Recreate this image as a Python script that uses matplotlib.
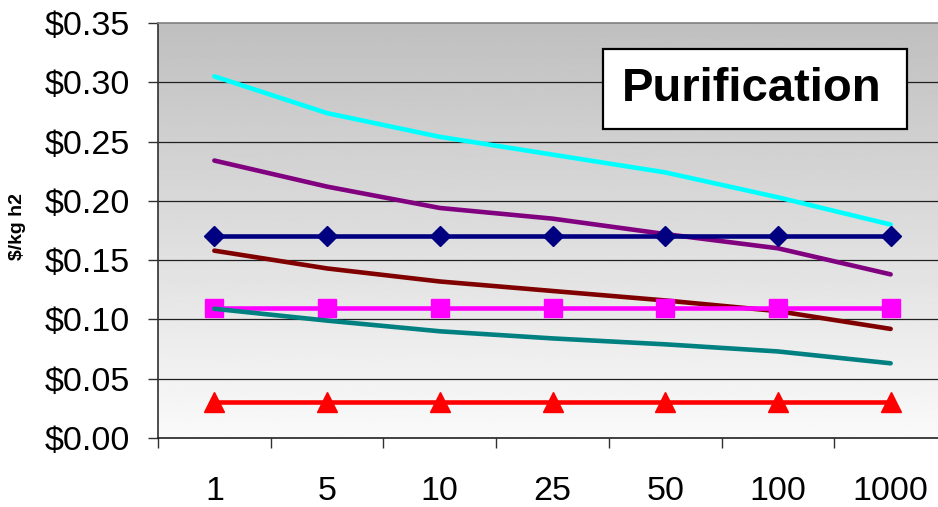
import numpy as np
import matplotlib
matplotlib.use("Agg")
import matplotlib.pyplot as plt
from matplotlib.patches import Rectangle

plt.rcParams['font.family'] = ['Liberation Sans', 'DejaVu Sans']

categories = ["1", "5", "10", "25", "50", "100", "1000"]
cyan_vals = [0.305, 0.274, 0.254, 0.239, 0.224, 0.203, 0.180]
purple_vals = [0.234, 0.212, 0.194, 0.185, 0.172, 0.160, 0.138]
navy_vals = [0.170, 0.170, 0.170, 0.170, 0.170, 0.170, 0.170]
darkred_vals = [0.158, 0.143, 0.132, 0.124, 0.116, 0.107, 0.092]
magenta_vals = [0.110, 0.110, 0.110, 0.110, 0.110, 0.110, 0.110]
teal_vals = [0.109, 0.099, 0.090, 0.084, 0.079, 0.073, 0.063]
red_vals = [0.030, 0.030, 0.030, 0.030, 0.030, 0.030, 0.030]
y_ticks = [0.00, 0.05, 0.10, 0.15, 0.20, 0.25, 0.30, 0.35]

W, H = 938, 507
fig = plt.figure(figsize=(W / 100, H / 100), dpi=100)
left, right, top, bottom = 158, 947, 23, 438
ax = fig.add_axes([left / W, (H - bottom) / H, (right - left) / W, (bottom - top) / H])

n = len(categories)
x = np.arange(n)
ax.set_xlim(-0.5, n - 0.5)
ax.set_ylim(0, 0.35)

# gradient background
grad = np.linspace(0.98, 0.75, 256).reshape(-1, 1)
ax.imshow(grad, extent=[-0.5, n - 0.5, 0, 0.35], aspect='auto', cmap='gray',
          vmin=0, vmax=1, origin='lower', zorder=0, interpolation='bilinear')

# grid
for yv in y_ticks[1:-1]:
    ax.axhline(yv, color='#202020', lw=0.9, zorder=1)

lw = 3.3
ax.plot(x, cyan_vals, color='#00FFFF', lw=lw, zorder=3, solid_capstyle='round')
ax.plot(x, purple_vals, color='#800080', lw=lw, zorder=3, solid_capstyle='round')
ax.plot(x, navy_vals, color='#000080', lw=lw, zorder=3, marker='D', ms=10.5)
ax.plot(x, darkred_vals, color='#800000', lw=lw, zorder=3, solid_capstyle='round')
ax.plot(x, magenta_vals, color='#FF00FF', lw=lw, zorder=3, marker='s', ms=13)
ax.plot(x, teal_vals, color='#008080', lw=lw, zorder=3, solid_capstyle='round')
ax.plot(x, red_vals, color='#FF0000', lw=lw, zorder=3, marker='^', ms=14)

# spines
for s in ['right', 'bottom']:
    ax.spines[s].set_visible(False)
ax.spines['top'].set_color('#808080')
ax.spines['top'].set_linewidth(1.2)
ax.spines['left'].set_color('#303030')
ax.spines['left'].set_linewidth(1.2)
ax.axhline(0, color='#202020', lw=1.2, zorder=4, clip_on=False)

ax.set_yticks(y_ticks)
ax.set_yticklabels([f"${v:.2f}" for v in y_ticks], fontsize=24.5)
ax.tick_params(axis='y', length=7.2, width=1.0, color='#303030', pad=13)

ax.set_xticks(x)
ax.set_xticklabels(categories, fontsize=24.5)
ax.set_xticks(np.arange(-0.5, n - 0.5 + 0.01, 1.0), minor=True)
ax.tick_params(axis='x', which='major', length=0, pad=27)
ax.tick_params(axis='x', which='minor', length=7.5, width=1.0, color='#303030')

fig.text(18 / W, 1 - 227 / H, "$/kg h2", rotation=90, fontsize=14, fontweight='bold',
         ha='center', va='center')

# Purification box
bx0, by0, bx1, by1 = 603, 49, 907, 129
fig.patches.append(Rectangle((bx0 / W, 1 - by1 / H), (bx1 - bx0) / W, (by1 - by0) / H,
                             transform=fig.transFigure, facecolor='white',
                             edgecolor='black', lw=1.6, zorder=5))
fig.text(752 / W, 1 - 89 / H, "Purification", fontsize=34, fontweight='bold',
         ha='center', va='center', zorder=6)

fig.savefig("out.png", dpi=100)
